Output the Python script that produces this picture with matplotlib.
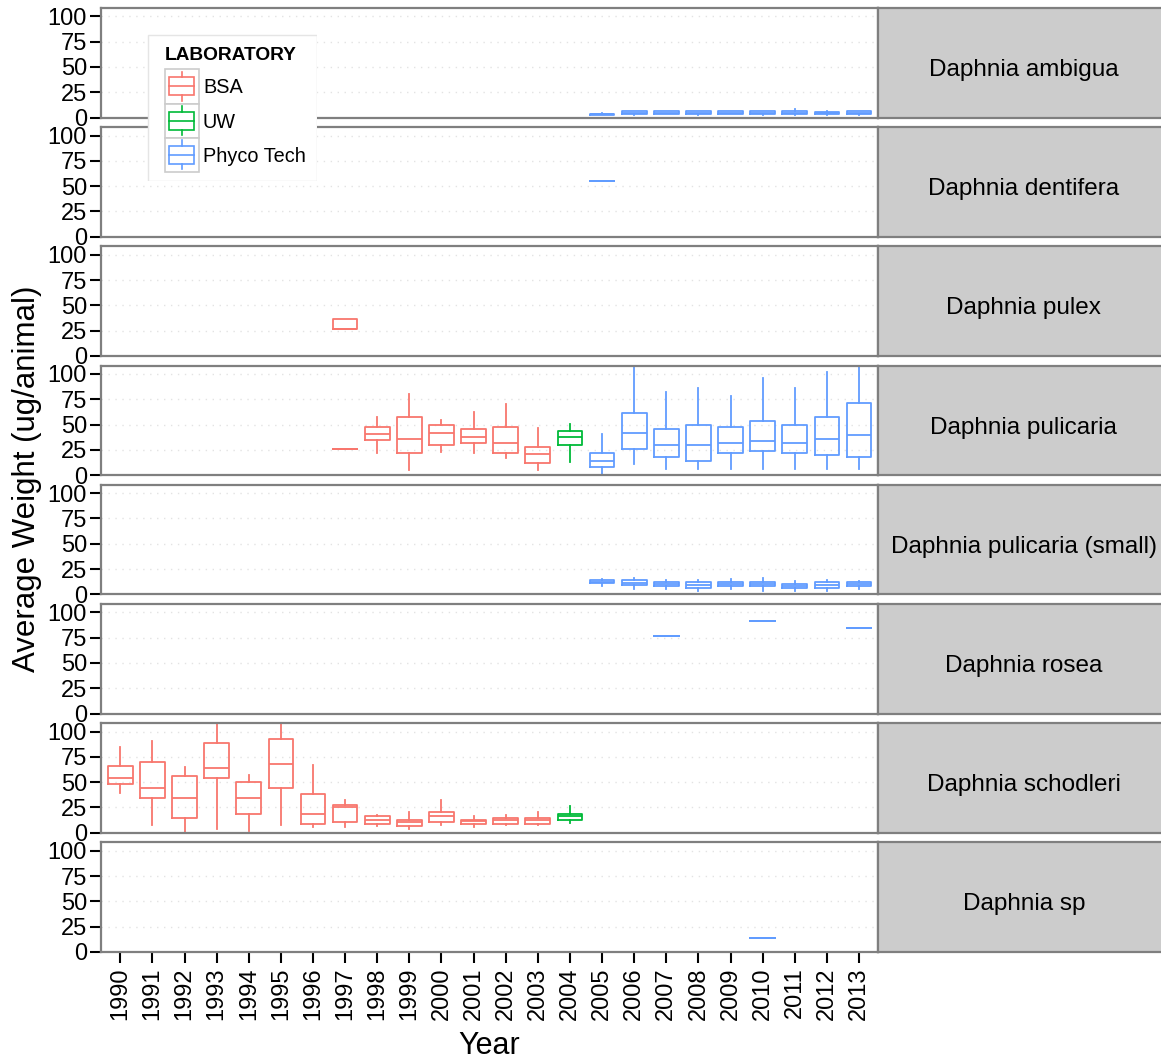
import matplotlib
matplotlib.use("Agg")
import matplotlib.pyplot as plt
from matplotlib.patches import Rectangle

plt.rcParams['font.family'] = ['Liberation Sans', 'DejaVu Sans']

# Data: (whisker low, Q1, median, Q3, whisker high)
years = list(range(1990, 2014))
labs = ["BSA", "UW", "Phyco Tech"]
lab_colors = {"BSA": "#F8766D", "UW": "#00BA38", "Phyco Tech": "#619CFF"}

ambigua_years = [2005, 2006, 2007, 2008, 2009, 2010, 2011, 2012, 2013]
ambigua_lab = ["Phyco Tech"] * 9
ambigua_stats = [(2.5, 3, 3.5, 4, 4.5), (3, 3.5, 4.5, 6.5, 7), (3.5, 4, 5, 6.5, 7),
                 (3, 3.5, 4.5, 6.5, 6.5), (3.5, 4, 5, 6.5, 7), (3, 4, 5, 6.5, 7),
                 (3, 3.5, 4.5, 6.5, 8), (2.5, 3.5, 4.5, 6, 6.5), (3, 3.5, 4.5, 6.5, 6.5)]

dentifera_years = [2005]
dentifera_lab = ["Phyco Tech"]
dentifera_stats = [(55, 55, 55, 55, 55)]

pulex_years = [1997]
pulex_lab = ["BSA"]
pulex_stats = [(26.5, 26.5, 26.5, 36.5, 36.5)]

pulicaria_years = [1997, 1998, 1999, 2000, 2001, 2002, 2003, 2004, 2005,
                   2006, 2007, 2008, 2009, 2010, 2011, 2012, 2013]
pulicaria_lab = ["BSA"] * 7 + ["UW"] + ["Phyco Tech"] * 9
pulicaria_stats = [(25.5, 25.5, 25.5, 25.5, 25.5), (22, 35, 41, 48, 57), (5, 22, 36, 57, 80),
                   (22.5, 30, 42, 50, 54.5), (22, 31.5, 38, 45.5, 62.5), (16.5, 22, 32, 47.5, 70.5),
                   (5, 12, 20.5, 28, 47), (13, 30, 37.5, 44, 51), (1.3, 8.4, 14.5, 22, 41),
                   (11, 25.5, 42, 61, 120), (6.4, 18, 29.5, 45.5, 82), (6.4, 14, 29.5, 49.5, 86),
                   (6.4, 22, 32, 47.5, 78.5), (6.4, 24, 33.5, 53.5, 96), (6.4, 22, 32, 49.5, 86),
                   (6.4, 20, 35.5, 57, 101.5), (6.4, 18, 39.5, 71, 120)]

small_years = [2005, 2006, 2007, 2008, 2009, 2010, 2011, 2012, 2013]
small_lab = ["Phyco Tech"] * 9
small_stats = [(7.8, 10.8, 12.4, 13.8, 15), (5.8, 8.8, 11.6, 14, 15.8), (5.8, 8.4, 10, 11.8, 13.8),
               (3.3, 6.4, 9, 11.8, 14.6), (5.8, 8.4, 10.5, 12.4, 15), (3.3, 8.4, 10.5, 12.4, 16.3),
               (3.3, 6.4, 8.5, 10, 13), (3.3, 6.4, 9.3, 12, 14.6), (5.8, 8, 10, 12, 13.5)]

rosea_years = [2007, 2010, 2013]
rosea_lab = ["Phyco Tech"] * 3
rosea_stats = [(77, 77, 77, 77, 77), (91.5, 91.5, 91.5, 91.5, 91.5), (84.5, 84.5, 84.5, 84.5, 84.5)]

schodleri_years = list(range(1990, 2005))
schodleri_lab = ["BSA"] * 14 + ["UW"]
schodleri_stats = [(39, 48, 54, 66, 85), (7.4, 34.3, 44.4, 70, 91), (0, 15, 34.7, 56, 65),
                   (3.4, 54, 64, 89, 120), (1.7, 18.5, 34.7, 50, 57), (7.4, 44.4, 67.7, 93, 120),
                   (5.4, 9, 19, 38.4, 67), (5.4, 10.8, 25.6, 27, 32), (7, 8.8, 12.8, 17, 18),
                   (3.4, 7, 10.8, 13, 20.5), (7.4, 10.8, 17, 21, 32), (5.7, 9, 11.8, 13, 16.5),
                   (7.4, 9, 12.8, 15, 18), (7.4, 9, 12.8, 15, 20.5), (9.4, 12.8, 16.5, 19, 26)]

sp_years = [2010]
sp_lab = ["Phyco Tech"]
sp_stats = [(14, 14, 14, 14, 14)]

panels = [
    ("Daphnia ambigua", ambigua_years, ambigua_lab, ambigua_stats),
    ("Daphnia dentifera", dentifera_years, dentifera_lab, dentifera_stats),
    ("Daphnia pulex", pulex_years, pulex_lab, pulex_stats),
    ("Daphnia pulicaria", pulicaria_years, pulicaria_lab, pulicaria_stats),
    ("Daphnia pulicaria (small)", small_years, small_lab, small_stats),
    ("Daphnia rosea", rosea_years, rosea_lab, rosea_stats),
    ("Daphnia schodleri", schodleri_years, schodleri_lab, schodleri_stats),
    ("Daphnia sp", sp_years, sp_lab, sp_stats),
]

W, H = 1161, 1062
fig = plt.figure(figsize=(W / 100, H / 100), dpi=100)

left, right = 101, 878.3
top0, step, ph = 8, 119.2, 109.6
border = "#7F7F7F"

for i, (name, yrs, lab, stats) in enumerate(panels):
    top = top0 + i * step
    bottom = top + ph
    ax = fig.add_axes([left / W, 1 - bottom / H, (right - left) / W, ph / H])
    for y, l, s in zip(yrs, lab, stats):
        st = dict(whislo=s[0], q1=s[1], med=s[2], q3=s[3], whishi=s[4], fliers=[])
        c = lab_colors[l]
        ax.bxp([st], positions=[years.index(y) + 1], widths=0.77, showcaps=False,
               showfliers=False, manage_ticks=False,
               boxprops=dict(color=c, lw=1.3), medianprops=dict(color=c, lw=1.3),
               whiskerprops=dict(color=c, lw=1.3))
    ax.set_xlim(0.4, 24.6)
    ax.set_ylim(0, 108.2)
    ax.set_yticks([0, 25, 50, 75, 100])
    for g in [25, 50, 75, 100]:
        ax.axhline(g, color="#E3E3E3", lw=1, ls=(0, (1, 4)), zorder=0)
    for sp in ax.spines.values():
        sp.set_color(border)
        sp.set_linewidth(1.6)
    ax.tick_params(axis="y", labelsize=17, length=8, width=1.5, color="black", pad=2)
    if i == len(panels) - 1:
        ax.set_xticks(range(1, 25))
        ax.set_xticklabels([str(y) for y in years], rotation=90)
        ax.tick_params(axis="x", labelsize=17, length=8, width=1.5, color="black", pad=3)
    else:
        ax.set_xticks([])

    # strip on the right
    sx = fig.add_axes([right / W, 1 - bottom / H, 300 / W, ph / H])
    sx.set_facecolor("#CCCCCC")
    sx.set_xticks([])
    sx.set_yticks([])
    for sp in sx.spines.values():
        sp.set_color(border)
        sp.set_linewidth(1.6)
    sx.text(145.5 / 300, 0.5 - 13.2 / ph, name, transform=sx.transAxes,
            ha="center", va="baseline", fontsize=17.5)

fig.text(27 / W, 1 - 479 / H, "Average Weight (ug/animal)", rotation=90,
         ha="center", va="center", fontsize=22.5)
fig.text(489 / W, 1 - 1054 / H, "Year", ha="center", va="baseline", fontsize=22)

# legend drawn by hand in pixel coordinates
lg = fig.add_axes([147 / W, 1 - 181 / H, 170 / W, 147 / H])
lg.set_xlim(147, 317)
lg.set_ylim(181, 34)
lg.axis("off")
lg.add_patch(Rectangle((147.5, 34.5), 169, 146, facecolor="white", edgecolor="#E5E5E5", lw=1))
lg.text(165, 55, "LABORATORY", fontsize=13.8, fontweight="bold", va="center", ha="left")
for k, l in enumerate(labs):
    y0 = 69.3 + k * 34.3
    cy = y0 + 17
    c = lab_colors[l]
    lg.add_patch(Rectangle((165, y0), 33.5, 34.3, facecolor="white", edgecolor="#CCCCCC", lw=1.2))
    lg.add_patch(Rectangle((169, cy - 9), 25.3, 18, facecolor="none", edgecolor=c, lw=1.2))
    lg.plot([169, 194.3], [cy, cy], color=c, lw=1.2)
    lg.plot([181.6, 181.6], [cy - 14.5, cy - 9], color=c, lw=1.2)
    lg.plot([181.6, 181.6], [cy + 9, cy + 14.5], color=c, lw=1.2)
    lg.text(203, cy + 1.5, l, fontsize=14.3, va="center", ha="left")

fig.savefig("out.png", dpi=100)
